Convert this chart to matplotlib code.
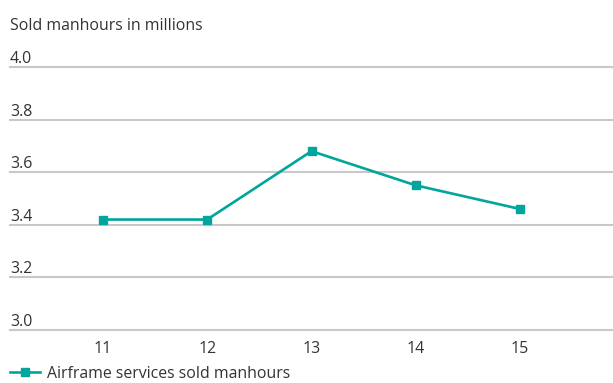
import matplotlib
matplotlib.use("Agg")
import matplotlib.pyplot as plt
from matplotlib.lines import Line2D

years = ["11", "12", "13", "14", "15"]
values = [3.42, 3.42, 3.68, 3.55, 3.46]
yticks = [3.0, 3.2, 3.4, 3.6, 3.8, 4.0]
ytick_labels = ["3.0", "3.2", "3.4", "3.6", "3.8", "4.0"]
series_name = "Airframe services sold manhours"
title = "Sold manhours in millions"

plt.rcParams['font.family'] = ['Open Sans', 'DejaVu Sans']
TEXT = "#333333"
TEAL = "#00A59B"
GRID = "#c8c8c8"
FS = 11.4

W, H = 613, 383
fig = plt.figure(figsize=(W/100, H/100), dpi=100)
left = 10 / W
bottom = 1 - 330 / H
top = 1 - 67 / H
ax = fig.add_axes([left, bottom, 1 - left, top - bottom])

x = list(range(len(years)))
ax.set_xlim(-0.89, 4.89)
ax.set_ylim(3.0, 4.0)
for yv in yticks:
    ax.axhline(yv, color=GRID, lw=1.5, zorder=1, clip_on=False)

ax.plot(x, values, color=TEAL, lw=1.9, marker="s", ms=5.8, zorder=3, clip_on=False)

for s in ax.spines.values():
    s.set_visible(False)
ax.set_yticks([])
ax.set_xticks(x)
ax.set_xticklabels(years, fontsize=FS, color=TEXT)
ax.tick_params(axis="x", length=0, pad=8)

for yv, lab in zip(yticks, ytick_labels):
    ax.annotate(lab, xy=(0, yv), xycoords=("axes fraction", "data"),
                xytext=(0, 0), textcoords="offset points",
                ha="left", va="bottom", fontsize=FS, color=TEXT)

fig.text(10 / W, 1 - 26 / H, title, ha="left", va="center", fontsize=FS, color=TEXT)

handle = Line2D([], [], color=TEAL, lw=1.9, marker="s", ms=5.8)
fig.legend([handle], [series_name], loc="center left",
           bbox_to_anchor=(10 / W, 1 - 374 / H), frameon=False,
           fontsize=FS, labelcolor=TEXT, handlelength=1.9, handletextpad=0.45,
           borderaxespad=0, borderpad=0)

fig.savefig("out.png", dpi=100)
